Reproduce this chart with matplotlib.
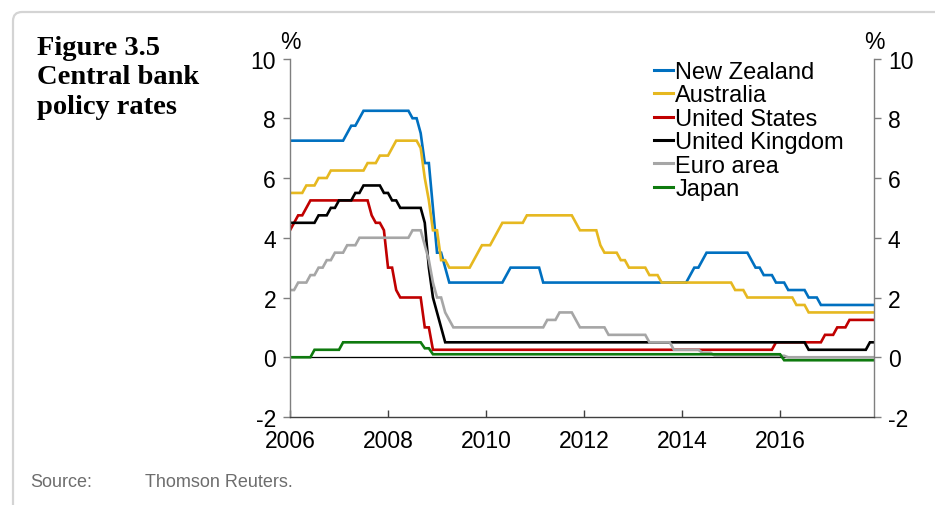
import matplotlib
matplotlib.use("Agg")
import matplotlib.pyplot as plt
import numpy as np
from matplotlib.patches import FancyBboxPatch
from matplotlib.lines import Line2D

plt.rcParams['font.family'] = ['Liberation Sans', 'DejaVu Sans']

# Monthly policy rates, Jan 2006 - Dec 2017 (one row per year)
new_zealand = [
    7.25, 7.25, 7.25, 7.25, 7.25, 7.25, 7.25, 7.25, 7.25, 7.25, 7.25, 7.25,
    7.25, 7.25, 7.5, 7.75, 7.75, 8.0, 8.25, 8.25, 8.25, 8.25, 8.25, 8.25,
    8.25, 8.25, 8.25, 8.25, 8.25, 8.25, 8.0, 8.0, 7.5, 6.5, 6.5, 5.0,
    3.5, 3.5, 3.0, 2.5, 2.5, 2.5, 2.5, 2.5, 2.5, 2.5, 2.5, 2.5,
    2.5, 2.5, 2.5, 2.5, 2.5, 2.75, 3.0, 3.0, 3.0, 3.0, 3.0, 3.0,
    3.0, 3.0, 2.5, 2.5, 2.5, 2.5, 2.5, 2.5, 2.5, 2.5, 2.5, 2.5,
    2.5, 2.5, 2.5, 2.5, 2.5, 2.5, 2.5, 2.5, 2.5, 2.5, 2.5, 2.5,
    2.5, 2.5, 2.5, 2.5, 2.5, 2.5, 2.5, 2.5, 2.5, 2.5, 2.5, 2.5,
    2.5, 2.5, 2.75, 3.0, 3.0, 3.25, 3.5, 3.5, 3.5, 3.5, 3.5, 3.5,
    3.5, 3.5, 3.5, 3.5, 3.5, 3.25, 3.0, 3.0, 2.75, 2.75, 2.75, 2.5,
    2.5, 2.5, 2.25, 2.25, 2.25, 2.25, 2.25, 2.0, 2.0, 2.0, 1.75, 1.75,
    1.75, 1.75, 1.75, 1.75, 1.75, 1.75, 1.75, 1.75, 1.75, 1.75, 1.75, 1.75,
]
australia = [
    5.5, 5.5, 5.5, 5.5, 5.75, 5.75, 5.75, 6.0, 6.0, 6.0, 6.25, 6.25,
    6.25, 6.25, 6.25, 6.25, 6.25, 6.25, 6.25, 6.5, 6.5, 6.5, 6.75, 6.75,
    6.75, 7.0, 7.25, 7.25, 7.25, 7.25, 7.25, 7.25, 7.0, 6.0, 5.25, 4.25,
    4.25, 3.25, 3.25, 3.0, 3.0, 3.0, 3.0, 3.0, 3.0, 3.25, 3.5, 3.75,
    3.75, 3.75, 4.0, 4.25, 4.5, 4.5, 4.5, 4.5, 4.5, 4.5, 4.75, 4.75,
    4.75, 4.75, 4.75, 4.75, 4.75, 4.75, 4.75, 4.75, 4.75, 4.75, 4.5, 4.25,
    4.25, 4.25, 4.25, 4.25, 3.75, 3.5, 3.5, 3.5, 3.5, 3.25, 3.25, 3.0,
    3.0, 3.0, 3.0, 3.0, 2.75, 2.75, 2.75, 2.5, 2.5, 2.5, 2.5, 2.5,
    2.5, 2.5, 2.5, 2.5, 2.5, 2.5, 2.5, 2.5, 2.5, 2.5, 2.5, 2.5,
    2.5, 2.25, 2.25, 2.25, 2.0, 2.0, 2.0, 2.0, 2.0, 2.0, 2.0, 2.0,
    2.0, 2.0, 2.0, 2.0, 1.75, 1.75, 1.75, 1.5, 1.5, 1.5, 1.5, 1.5,
    1.5, 1.5, 1.5, 1.5, 1.5, 1.5, 1.5, 1.5, 1.5, 1.5, 1.5, 1.5,
]
united_states = [
    4.25, 4.5, 4.75, 4.75, 5.0, 5.25, 5.25, 5.25, 5.25, 5.25, 5.25, 5.25,
    5.25, 5.25, 5.25, 5.25, 5.25, 5.25, 5.25, 5.25, 4.75, 4.5, 4.5, 4.25,
    3.0, 3.0, 2.25, 2.0, 2.0, 2.0, 2.0, 2.0, 2.0, 1.0, 1.0, 0.25,
    0.25, 0.25, 0.25, 0.25, 0.25, 0.25, 0.25, 0.25, 0.25, 0.25, 0.25, 0.25,
    0.25, 0.25, 0.25, 0.25, 0.25, 0.25, 0.25, 0.25, 0.25, 0.25, 0.25, 0.25,
    0.25, 0.25, 0.25, 0.25, 0.25, 0.25, 0.25, 0.25, 0.25, 0.25, 0.25, 0.25,
    0.25, 0.25, 0.25, 0.25, 0.25, 0.25, 0.25, 0.25, 0.25, 0.25, 0.25, 0.25,
    0.25, 0.25, 0.25, 0.25, 0.25, 0.25, 0.25, 0.25, 0.25, 0.25, 0.25, 0.25,
    0.25, 0.25, 0.25, 0.25, 0.25, 0.25, 0.25, 0.25, 0.25, 0.25, 0.25, 0.25,
    0.25, 0.25, 0.25, 0.25, 0.25, 0.25, 0.25, 0.25, 0.25, 0.25, 0.25, 0.5,
    0.5, 0.5, 0.5, 0.5, 0.5, 0.5, 0.5, 0.5, 0.5, 0.5, 0.5, 0.75,
    0.75, 0.75, 1.0, 1.0, 1.0, 1.25, 1.25, 1.25, 1.25, 1.25, 1.25, 1.25,
]
united_kingdom = [
    4.5, 4.5, 4.5, 4.5, 4.5, 4.5, 4.5, 4.75, 4.75, 4.75, 5.0, 5.0,
    5.25, 5.25, 5.25, 5.25, 5.5, 5.5, 5.75, 5.75, 5.75, 5.75, 5.75, 5.5,
    5.5, 5.25, 5.25, 5.0, 5.0, 5.0, 5.0, 5.0, 5.0, 4.5, 3.0, 2.0,
    1.5, 1.0, 0.5, 0.5, 0.5, 0.5, 0.5, 0.5, 0.5, 0.5, 0.5, 0.5,
    0.5, 0.5, 0.5, 0.5, 0.5, 0.5, 0.5, 0.5, 0.5, 0.5, 0.5, 0.5,
    0.5, 0.5, 0.5, 0.5, 0.5, 0.5, 0.5, 0.5, 0.5, 0.5, 0.5, 0.5,
    0.5, 0.5, 0.5, 0.5, 0.5, 0.5, 0.5, 0.5, 0.5, 0.5, 0.5, 0.5,
    0.5, 0.5, 0.5, 0.5, 0.5, 0.5, 0.5, 0.5, 0.5, 0.5, 0.5, 0.5,
    0.5, 0.5, 0.5, 0.5, 0.5, 0.5, 0.5, 0.5, 0.5, 0.5, 0.5, 0.5,
    0.5, 0.5, 0.5, 0.5, 0.5, 0.5, 0.5, 0.5, 0.5, 0.5, 0.5, 0.5,
    0.5, 0.5, 0.5, 0.5, 0.5, 0.5, 0.5, 0.25, 0.25, 0.25, 0.25, 0.25,
    0.25, 0.25, 0.25, 0.25, 0.25, 0.25, 0.25, 0.25, 0.25, 0.25, 0.5, 0.5,
]
euro_area = [
    2.25, 2.25, 2.5, 2.5, 2.5, 2.75, 2.75, 3.0, 3.0, 3.25, 3.25, 3.5,
    3.5, 3.5, 3.75, 3.75, 3.75, 4.0, 4.0, 4.0, 4.0, 4.0, 4.0, 4.0,
    4.0, 4.0, 4.0, 4.0, 4.0, 4.0, 4.25, 4.25, 4.25, 3.75, 3.25, 2.5,
    2.0, 2.0, 1.5, 1.25, 1.0, 1.0, 1.0, 1.0, 1.0, 1.0, 1.0, 1.0,
    1.0, 1.0, 1.0, 1.0, 1.0, 1.0, 1.0, 1.0, 1.0, 1.0, 1.0, 1.0,
    1.0, 1.0, 1.0, 1.25, 1.25, 1.25, 1.5, 1.5, 1.5, 1.5, 1.25, 1.0,
    1.0, 1.0, 1.0, 1.0, 1.0, 1.0, 0.75, 0.75, 0.75, 0.75, 0.75, 0.75,
    0.75, 0.75, 0.75, 0.75, 0.5, 0.5, 0.5, 0.5, 0.5, 0.5, 0.25, 0.25,
    0.25, 0.25, 0.25, 0.25, 0.25, 0.15, 0.15, 0.15, 0.05, 0.05, 0.05, 0.05,
    0.05, 0.05, 0.05, 0.05, 0.05, 0.05, 0.05, 0.05, 0.05, 0.05, 0.05, 0.05,
    0.05, 0.05, 0.0, 0.0, 0.0, 0.0, 0.0, 0.0, 0.0, 0.0, 0.0, 0.0,
    0.0, 0.0, 0.0, 0.0, 0.0, 0.0, 0.0, 0.0, 0.0, 0.0, 0.0, 0.0,
]
japan = [
    0.0, 0.0, 0.0, 0.0, 0.0, 0.0, 0.25, 0.25, 0.25, 0.25, 0.25, 0.25,
    0.25, 0.5, 0.5, 0.5, 0.5, 0.5, 0.5, 0.5, 0.5, 0.5, 0.5, 0.5,
    0.5, 0.5, 0.5, 0.5, 0.5, 0.5, 0.5, 0.5, 0.5, 0.3, 0.3, 0.1,
    0.1, 0.1, 0.1, 0.1, 0.1, 0.1, 0.1, 0.1, 0.1, 0.1, 0.1, 0.1,
    0.1, 0.1, 0.1, 0.1, 0.1, 0.1, 0.1, 0.1, 0.1, 0.1, 0.1, 0.1,
    0.1, 0.1, 0.1, 0.1, 0.1, 0.1, 0.1, 0.1, 0.1, 0.1, 0.1, 0.1,
    0.1, 0.1, 0.1, 0.1, 0.1, 0.1, 0.1, 0.1, 0.1, 0.1, 0.1, 0.1,
    0.1, 0.1, 0.1, 0.1, 0.1, 0.1, 0.1, 0.1, 0.1, 0.1, 0.1, 0.1,
    0.1, 0.1, 0.1, 0.1, 0.1, 0.1, 0.1, 0.1, 0.1, 0.1, 0.1, 0.1,
    0.1, 0.1, 0.1, 0.1, 0.1, 0.1, 0.1, 0.1, 0.1, 0.1, 0.1, 0.1,
    0.1, -0.1, -0.1, -0.1, -0.1, -0.1, -0.1, -0.1, -0.1, -0.1, -0.1, -0.1,
    -0.1, -0.1, -0.1, -0.1, -0.1, -0.1, -0.1, -0.1, -0.1, -0.1, -0.1, -0.1,
]

series_names = ["New Zealand", "Australia", "United States",
                "United Kingdom", "Euro area", "Japan"]
series_values = [new_zealand, australia, united_states,
                 united_kingdom, euro_area, japan]
series_colors = ["#0070C0", "#E6B820", "#C00000", "#000000", "#A6A6A6", "#0E7A0E"]

x_ticks = [2006, 2008, 2010, 2012, 2014, 2016]
y_ticks = [-2, 0, 2, 4, 6, 8, 10]

# monthly time axis
dates = 2006 + np.arange(len(new_zealand)) / 12.0

W, H = 935, 506
fig = plt.figure(figsize=(W / 100, H / 100), dpi=100)

# light rounded frame
frame = FancyBboxPatch((13, -30), 1000, H - 13 + 30,
                       boxstyle="round,pad=0,rounding_size=9",
                       transform=None, facecolor="none",
                       edgecolor="#d4d4d4", linewidth=1.6, clip_on=False)
fig.patches.append(frame)

ax_l, ax_r, ax_b, ax_t = 290, 874, 418, 59.5
ax = fig.add_axes([ax_l / W, 1 - ax_b / H, (ax_r - ax_l) / W, (ax_b - ax_t) / H])

ax.axhline(0, color="black", lw=0.9, zorder=1)
for name, vals, col in zip(series_names, series_values, series_colors):
    ax.plot(dates, vals, color=col, lw=1.9, solid_joinstyle="miter", zorder=2)

ax.set_xlim(2006, dates[-1])
ax.set_ylim(-2, 10)
ax.set_xticks(x_ticks)
ax.set_xticklabels([str(t) for t in x_ticks])
ax.set_yticks(y_ticks)
ax.set_yticklabels([str(t) for t in y_ticks])

ax.spines["top"].set_visible(False)
for s in ("left", "right"):
    ax.spines[s].set_color("#7f7f7f")
    ax.spines[s].set_linewidth(1.0)
ax.spines["bottom"].set_color("#404040")
ax.spines["bottom"].set_linewidth(1.0)

ax.tick_params(axis="x", direction="in", length=5, width=1, color="#404040",
               labelsize=16.5, pad=9)
ax.tick_params(axis="y", direction="out", length=5, width=1, color="#7f7f7f",
               labelsize=16.5, pad=5, left=True, right=True,
               labelleft=True, labelright=True)

ax.text(0.0, 1.015, "%", transform=ax.transAxes, ha="center", va="bottom", fontsize=16.5)
ax.text(1.0, 1.015, "%", transform=ax.transAxes, ha="center", va="bottom", fontsize=16.5)

handles = [Line2D([], [], color=c, lw=2.2) for c in series_colors]
ax.legend(handles, series_names, loc="upper left",
          bbox_to_anchor=(654 / W, 1 - 62 / H), bbox_transform=fig.transFigure,
          frameon=False, fontsize=17, handlelength=0.8, handletextpad=0.1,
          labelspacing=0.06, borderpad=0, borderaxespad=0)

# title block
title_lines = ["Figure 3.5", "Central bank", "policy rates"]
for i, t in enumerate(title_lines):
    fig.text(37 / W, 1 - (55 + 29.5 * i) / H, t, ha="left", va="baseline",
             fontsize=20.5, fontweight="bold", family=["Liberation Serif", "DejaVu Serif"])

fig.text(30 / W, 1 - 487 / H, "Source:", ha="left", va="baseline",
         fontsize=13, color="#6d6d6d")
fig.text(145 / W, 1 - 487 / H, "Thomson Reuters.", ha="left", va="baseline",
         fontsize=13, color="#6d6d6d")

fig.savefig("out.png", dpi=100)
